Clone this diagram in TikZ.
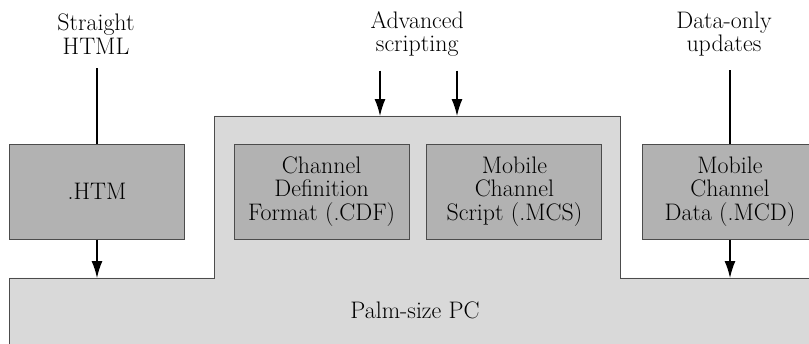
\documentclass[tikz,border=0pt]{standalone}
\usetikzlibrary{arrows.meta}
\begin{document}
\begin{tikzpicture}[
        fmt/.style={rectangle,draw=black!70,fill=black!30,line width=0.7pt,minimum width=4.375cm,minimum height=2.375cm,align=center,inner sep=0pt},
        src/.style={align=center,inner sep=4pt},
        wire/.style={line width=1pt,shorten <=0.2cm},
        feed/.style={line width=1pt,-{Latex[length=0.42cm,width=0.27cm]}},
        font=\fontsize{17}{17}\selectfont
    ]
        \useasboundingbox (0,0) rectangle (20.225,8.6);
        \begin{scope}
        \clip (0,0) rectangle (20.225,8.6);
        % the device
        \draw[draw=black!70,fill=black!15,line width=0.7pt] (0.24,-0.5) -- (0.24,1.65) -- (5.35,1.65) -- (5.35,5.7) -- (15.5,5.7) -- (15.5,1.65) -- (20.6,1.65) -- (20.6,-0.5) -- cycle;
        \node at (10.375,0.85) (palm) {Palm-size PC};
        \coordinate (htmin) at (2.425,1.65);
        \coordinate (cdfin) at (9.5,5.7);
        \coordinate (mcsin) at (11.425,5.7);
        \coordinate (mcdin) at (18.25,1.65);
        % file formats
        \node[fmt] at (2.425,3.81) (htm) {.HTM};
        \node[fmt] at (8.04,3.81) (cdf) {Channel\\Definition\\Format (.CDF)};
        \node[fmt] at (12.86,3.81) (mcs) {Mobile\\Channel\\Script (.MCS)};
        \node[fmt] at (18.25,3.81) (mcd) {Mobile\\Channel\\Data (.MCD)};
        \end{scope}
        % sources
        \node[src] at (2.4,7.75) (straight) {Straight\\HTML};
        \node[src] at (10.43,7.75) (adv) {Advanced\\scripting};
        \node[src] at (18.1,7.75) (dataonly) {Data-only\\updates};
        \draw[wire] (straight.south -| htm.north) -- (htm.north);
        \draw[feed] (htm) -- (htmin);
        \draw[wire,feed] (adv.south -| cdfin) -- (cdfin);
        \draw[wire,feed] (adv.south -| mcsin) -- (mcsin);
        \draw[wire] (dataonly.south -| mcd.north) -- (mcd.north);
        \draw[feed] (mcd) -- (mcdin);
    \end{tikzpicture}
\end{document}
